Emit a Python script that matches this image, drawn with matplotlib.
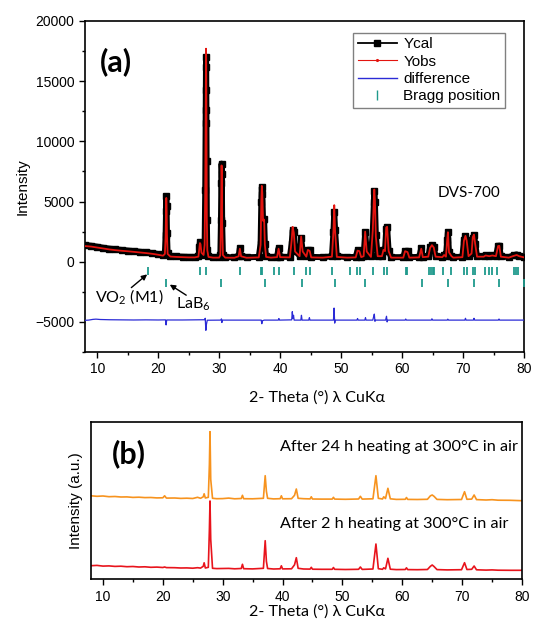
import matplotlib
matplotlib.use('Agg')
import matplotlib.pyplot as plt
from matplotlib.lines import Line2D
from matplotlib.ticker import MultipleLocator

plt.rcParams['font.family'] = ['Liberation Sans', 'DejaVu Sans']
plt.rcParams['mathtext.fontset'] = 'custom'
plt.rcParams['mathtext.rm'] = 'Lato'
plt.rcParams['mathtext.it'] = 'Lato:italic'
plt.rcParams['mathtext.bf'] = 'Lato:bold'

# ---------------- Panel (a) data: Rietveld refinement ----------------
tt_a = [8.0, 9.0, 10.0, 11.0, 12.0, 13.0, 14.0, 15.0, 16.0, 17.0,
        18.0, 19.0, 20.0, 20.8, 21.1, 21.22, 21.28, 21.33, 21.38, 21.44,
        21.55, 22.0, 23.0, 24.0, 25.0, 26.0, 26.6, 26.75, 26.85, 26.95,
        27.1, 27.45, 27.62, 27.72, 27.78, 27.82, 27.85, 27.88, 27.91, 27.94,
        27.98, 28.06, 28.25, 29.0, 30.0, 30.2, 30.3, 30.36, 30.40, 30.44,
        30.5, 30.62, 31.0, 32.5, 33.2, 33.4, 33.6, 34.5, 36.5, 36.8,
        36.92, 37.0, 37.08, 37.2, 37.38, 37.5, 37.7, 38.5, 39.5, 39.75,
        40.0, 41.6, 41.9, 42.05, 42.25, 42.45, 43.2, 43.45, 43.7, 44.3,
        44.55, 44.85, 45.1, 47.0, 48.5, 48.75, 48.88, 49.02, 49.3, 51.0,
        52.4, 52.7, 53.0, 53.3, 53.7, 53.95, 54.2, 54.9, 55.2, 55.38,
        55.45, 55.55, 55.7, 56.0, 56.7, 56.95, 57.2, 57.4, 57.55, 57.8,
        58.2, 60.2, 60.5, 60.9, 61.2, 62.8, 63.15, 63.4, 64.3, 64.6,
        64.9, 65.2, 65.5, 66.6, 66.9, 67.2, 67.4, 67.52, 67.7, 68.1,
        68.4, 69.9, 70.15, 70.4, 70.6, 70.9, 71.4, 71.6, 71.8, 72.0,
        72.3, 73.4, 73.7, 74.3, 74.8, 75.4, 75.75, 75.95, 76.2, 77.5,
        78.4, 78.8, 79.2, 80.0]
ycal = [1380, 1330, 1250, 1160, 1090, 1030, 980, 930, 880, 830,
        780, 720, 640, 560, 700, 2200, 4200, 5450, 4600, 2400,
        700, 480, 440, 420, 400, 400, 450, 1200, 1650, 1500,
        800, 600, 1500, 6000, 11500, 14300, 17000, 16200, 12600, 8400,
        3500, 1000, 450, 380, 380, 600, 3500, 6500, 8150, 7300,
        3200, 600, 380, 370, 500, 1130, 500, 370, 400, 1500,
        5000, 6200, 5600, 3500, 3550, 1500, 450, 380, 420, 1140,
        420, 400, 1500, 2600, 2500, 900, 500, 1950, 900, 450,
        950, 950, 400, 380, 450, 2500, 4150, 2600, 450, 380,
        400, 950, 900, 420, 500, 2450, 900, 450, 2500, 5000,
        5850, 5000, 2200, 500, 500, 1000, 900, 2700, 2850, 900,
        380, 380, 900, 850, 380, 400, 1100, 420, 450, 1200,
        1400, 1200, 450, 420, 600, 450, 1800, 2430, 800, 500,
        380, 420, 1800, 2100, 1800, 500, 700, 2000, 2200, 1500,
        450, 450, 550, 500, 550, 500, 1300, 1330, 450, 380,
        550, 600, 500, 400]
yobs = [1300, 1260, 1180, 1100, 1020, 960, 910, 870, 820, 770,
        720, 660, 580, 500, 650, 2100, 4000, 5300, 4500, 2300,
        650, 430, 400, 380, 360, 360, 420, 1100, 1550, 1450,
        750, 560, 1400, 6100, 11800, 14800, 17700, 16800, 13000, 8600,
        3600, 950, 400, 340, 340, 550, 3400, 6300, 8000, 7100,
        3100, 550, 340, 330, 450, 1080, 450, 330, 360, 1400,
        5100, 6300, 5700, 3400, 3500, 1400, 400, 340, 380, 1080,
        380, 360, 1800, 2900, 2400, 850, 460, 2100, 850, 420,
        980, 900, 360, 340, 420, 2600, 4700, 2500, 400, 340,
        360, 920, 880, 380, 460, 2500, 850, 400, 2600, 5300,
        6000, 5100, 2100, 460, 460, 980, 880, 2850, 2900, 880,
        340, 340, 880, 800, 340, 360, 1080, 380, 420, 1150,
        1380, 1180, 420, 380, 560, 420, 1800, 2450, 780, 460,
        340, 380, 1750, 2150, 1750, 460, 680, 2050, 2250, 1450,
        420, 420, 520, 460, 520, 460, 1300, 1320, 420, 340,
        500, 560, 460, 360]

tt_diff = [8.0, 8.6, 9.3, 9.8, 10.5, 12.0, 14.0, 16.0, 18.0, 20.0,
           21.2, 21.3, 21.4, 24.0, 27.6, 27.72, 27.82, 27.92, 28.05, 30.3,
           30.38, 30.45, 30.55, 34.0, 36.9, 37.0, 37.1, 37.4, 39.7, 39.8,
           39.9, 41.9, 42.0, 42.1, 42.2, 42.3, 43.4, 43.5, 43.6, 44.7,
           44.8, 44.9, 48.75, 48.85, 48.95, 49.05, 52.6, 52.7, 52.8, 53.9,
           54.0, 54.1, 55.2, 55.35, 55.45, 55.55, 55.65, 57.3, 57.45, 57.55,
           57.65, 60.5, 60.6, 60.7, 64.8, 64.9, 65.0, 67.4, 67.5, 67.6,
           70.3, 70.4, 70.5, 71.7, 71.8, 71.9, 75.8, 75.9, 76.0, 80.0]
diff = [-4870, -4850, -4790, -4770, -4800, -4820, -4830, -4840, -4830, -4840,
        -4830, -5250, -4840, -4840, -4820, -4700, -5700, -5200, -4860, -4850,
        -4750, -5050, -4850, -4850, -4850, -5150, -4900, -4850, -4850, -4720,
        -4850, -4830, -4150, -4700, -4450, -4850, -4850, -4450, -4850, -4850,
        -4650, -4850, -4850, -3850, -5100, -4850, -4850, -4720, -4850, -4850,
        -4650, -4850, -4850, -4550, -4350, -4950, -4850, -4850, -4530, -5000,
        -4850, -4850, -4760, -4850, -4850, -4740, -4850, -4850, -4770, -4850,
        -4850, -4700, -4850, -4850, -4700, -4850, -4850, -4760, -4850, -4850]

bragg_vo2 = [18.41, 26.92, 27.87, 33.49, 36.94, 37.10, 39.05, 39.83, 42.22, 44.17,
             44.84, 48.45, 51.40, 52.68, 53.07, 55.29, 56.96, 57.52, 60.58, 60.86,
             64.47, 64.75, 65.03, 65.31, 66.70, 68.09, 70.15, 70.59, 71.71, 71.98,
             73.65, 74.31, 74.76, 75.59, 78.37, 78.66, 78.94]
bragg_lab6 = [21.36, 30.38, 37.44, 43.51, 48.96, 53.99, 63.22, 67.55, 71.76, 75.88, 79.92]

# ---------------- Panel (b) data: after heating ----------------
tt_b = [8.0, 9.0, 10.0, 11.0, 12.0, 13.0, 14.0, 15.0, 16.0, 17.0,
        18.0, 19.0, 20.0, 20.3, 20.6, 22.0, 23.0, 24.0, 25.0, 25.8,
        26.3, 26.75, 26.9, 27.1, 27.6, 27.78, 27.88, 28.0, 28.3, 29.0,
        30.0, 31.0, 32.0, 33.1, 33.3, 33.5, 35.0, 36.8, 37.1, 37.3,
        37.5, 38.5, 39.6, 39.8, 40.0, 41.5, 42.0, 42.3, 42.6, 43.5,
        44.6, 44.8, 45.0, 46.5, 48.3, 48.5, 48.7, 50.5, 52.7, 53.0,
        53.3, 55.1, 55.6, 56.0, 56.7, 56.9, 57.2, 57.6, 58.0, 59.0,
        60.5, 60.7, 60.9, 62.5, 64.2, 64.7, 65.0, 65.3, 65.8, 67.5,
        69.9, 70.4, 70.8, 71.6, 72.0, 72.4, 74.0, 75.0, 76.0, 78.0,
        80.0]
y_24h = [83.5, 83.0, 83.3, 82.6, 82.8, 82.3, 82.4, 81.9, 82.1, 81.7,
         81.8, 81.4, 81.5, 83.5, 81.2, 81.3, 80.9, 81.1, 80.8, 82.0,
         81.0, 82.5, 85.5, 81.3, 82.0, 115.0, 147.6, 100.0, 81.0, 80.6,
         80.7, 81.2, 80.5, 80.8, 84.0, 80.6, 80.5, 81.0, 103.6, 88.0,
         81.0, 80.4, 80.6, 83.5, 80.5, 80.6, 84.0, 90.3, 81.0, 80.6,
         80.4, 82.5, 80.3, 80.2, 80.2, 82.0, 80.2, 80.0, 80.3, 83.0,
         80.2, 80.5, 103.6, 81.0, 80.3, 82.5, 80.8, 91.0, 80.5, 79.9,
         80.0, 81.8, 79.9, 79.8, 80.0, 83.5, 84.3, 83.0, 79.9, 79.6,
         79.8, 87.6, 80.0, 80.2, 84.3, 79.7, 79.3, 79.6, 79.1, 79.0,
         78.6]
y_2h = [13.6, 13.9, 13.2, 13.4, 12.9, 13.1, 12.6, 12.8, 12.3, 12.5,
        12.0, 12.2, 11.8, 12.3, 11.7, 11.6, 11.3, 11.4, 11.1, 11.6,
        11.2, 13.0, 16.5, 11.3, 12.0, 50.0, 78.3, 40.0, 11.0, 10.7,
        10.8, 10.9, 10.5, 10.8, 15.0, 10.6, 10.4, 11.0, 38.6, 18.0,
        10.8, 10.3, 10.5, 13.5, 10.4, 10.5, 14.5, 21.6, 11.0, 10.3,
        10.2, 12.0, 10.1, 10.0, 10.0, 11.8, 10.0, 9.8, 10.0, 12.3,
        9.9, 10.3, 35.3, 10.6, 10.0, 11.5, 10.4, 21.0, 10.1, 9.7,
        9.8, 11.5, 9.7, 9.6, 9.8, 13.0, 14.3, 12.8, 9.7, 9.4,
        9.6, 16.6, 9.8, 10.0, 13.3, 9.5, 9.2, 9.4, 9.1, 9.0,
        9.0]

a_yticks = [-5000, 0, 5000, 10000, 15000, 20000]
x_ticks = [10, 20, 30, 40, 50, 60, 70, 80]
legend_labels = ['Ycal', 'Yobs', 'difference', 'Bragg position']

C_CAL = 'black'
C_OBS = '#e3140f'
C_DIFF = '#2b2bd6'
C_BRAGG = '#1f9a8c'
C_24 = '#f7931e'
C_2 = '#e8141c'
LATO = ['Lato', 'DejaVu Sans']

fig = plt.figure(figsize=(5.34, 6.24), dpi=100)
axa = fig.add_axes([85 / 534, 1 - 352 / 624, 439 / 534, 331 / 624])
axb = fig.add_axes([91 / 534, 1 - 579.3 / 624, 431 / 534, 157.3 / 624])

# ---- panel a ----
axa.plot(tt_a, ycal, color=C_CAL, lw=4.3, marker='s', ms=4, zorder=2)
axa.plot(tt_a, yobs, color=C_OBS, lw=1.3, zorder=3)
axa.plot(tt_diff, diff, color=C_DIFF, lw=0.9, zorder=3)
axa.plot(bragg_vo2, [-740] * len(bragg_vo2), ls='none', marker='|', ms=6,
         mew=1.3, color=C_BRAGG, zorder=3)
axa.plot(bragg_lab6, [-1790] * len(bragg_lab6), ls='none', marker='|', ms=6,
         mew=1.3, color=C_BRAGG, zorder=3)

axa.set_xlim(8, 80)
axa.set_ylim(-7500, 20000)
axa.set_xticks(x_ticks)
axa.set_yticks(a_yticks)
axa.xaxis.set_minor_locator(MultipleLocator(5))
axa.yaxis.set_minor_locator(MultipleLocator(2500))
axa.tick_params(which='major', direction='out', length=4, width=1, labelsize=10)
axa.tick_params(which='minor', direction='out', length=2.5, width=1)
for s in axa.spines.values():
    s.set_linewidth(1.2)
axa.set_ylabel('Intensity', fontsize=11, labelpad=4)
axa.set_xlabel('2- Theta (°) λ CuKα', fontsize=11.5, family=LATO, labelpad=3)
axa.xaxis.set_label_coords((317 - 85) / 439, -0.115)

handles = [Line2D([], [], color=C_CAL, lw=1.3, marker='s', ms=4.5),
           Line2D([], [], color=C_OBS, lw=0.8, marker='.', ms=2.5),
           Line2D([], [], color=C_DIFF, lw=1.0),
           Line2D([], [], color=C_BRAGG, ls='none', marker='|', ms=7, mew=1.0)]
leg = axa.legend(handles, legend_labels, loc='upper right',
                 bbox_to_anchor=(0.957, 0.965), borderaxespad=0,
                 fontsize=11, frameon=True, fancybox=False, framealpha=1,
                 edgecolor='#808080', borderpad=0.3, labelspacing=0.22,
                 handlelength=2.6, handletextpad=0.4)
leg.get_frame().set_linewidth(1.0)

axa.text(13.1, 16600, '(a)', fontsize=22, fontweight='bold', family=LATO,
         ha='center', va='center')
axa.text(70.9, 5710, 'DVS-700', fontsize=11, family=LATO, ha='center', va='center')

# annotations: labels and arrows pointing at the first Bragg tick of each phase
axa.text(15.2, -2930, 'VO$_\\mathregular{2}$ (M1)', fontsize=11.5, family=LATO,
         ha='center', va='center')
axa.annotate('', xy=(18.2, -1050), xytext=(15.6, -2150),
             arrowprops=dict(arrowstyle='-|>', color='black', lw=1.0,
                             mutation_scale=8, shrinkA=0, shrinkB=0))
axa.text(25.7, -3510, 'LaB$_\\mathregular{6}$', fontsize=11.5, family=LATO,
         ha='center', va='center')
axa.annotate('', xy=(21.9, -1900), xytext=(24.6, -2780),
             arrowprops=dict(arrowstyle='-|>', color='black', lw=1.0,
                             mutation_scale=8, shrinkA=0, shrinkB=0))

# ---- panel b ----
axb.plot(tt_b, y_24h, color=C_24, lw=1.2)
axb.plot(tt_b, y_2h, color=C_2, lw=1.2)
axb.set_xlim(8, 80)
axb.set_ylim(0, 157.3)
axb.set_xticks(x_ticks)
axb.set_yticks([])
axb.xaxis.set_minor_locator(MultipleLocator(5))
axb.tick_params(which='major', direction='out', length=4, width=1, labelsize=10)
axb.tick_params(which='minor', direction='out', length=2.5, width=1)
for s in axb.spines.values():
    s.set_linewidth(1.2)
axb.set_ylabel('Intensity (a.u.)', fontsize=11, labelpad=6)
axb.set_xlabel('2- Theta (°) λ CuKα', fontsize=11.5, family=LATO, labelpad=3)
axb.xaxis.set_label_coords((317 - 91) / 431, -0.16)
axb.text(0.088, 0.797, '(b)', transform=axb.transAxes, fontsize=22,
         fontweight='bold', family=LATO, ha='center', va='center')
axb.text(0.4385, 0.841, 'After 24 h heating at 300°C in air', transform=axb.transAxes,
         fontsize=11.7, family=LATO, ha='left', va='center')
axb.text(0.4385, 0.352, 'After 2 h heating at 300°C in air', transform=axb.transAxes,
         fontsize=11.7, family=LATO, ha='left', va='center')

fig.savefig('out.png', dpi=100)
